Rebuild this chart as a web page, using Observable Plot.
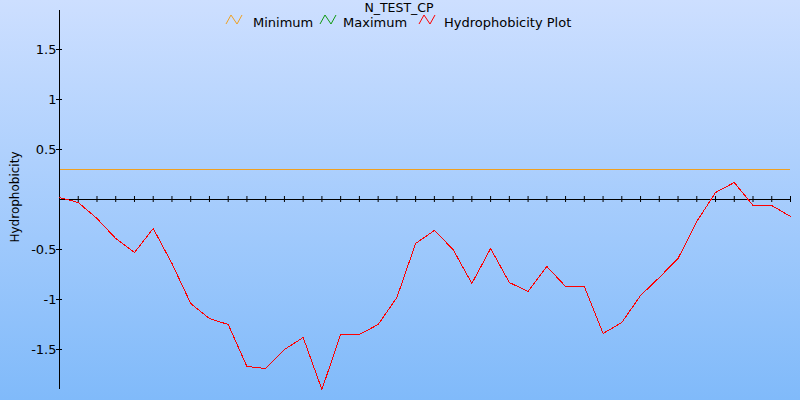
<!DOCTYPE html>
<html><head><meta charset="utf-8">
<script src="https://cdn.jsdelivr.net/npm/d3@7"></script>
<script src="https://cdn.jsdelivr.net/npm/@observablehq/plot@0.6"></script>
<style>
html,body{margin:0;padding:0;background:#fff;}
#wrap{position:relative;width:800px;height:400px;background:linear-gradient(#cddfff,#80bafa);overflow:hidden;font-family:"DejaVu Sans",sans-serif;}
#wrap svg{position:absolute;left:0;top:0;}
</style></head><body><div id="wrap"></div>
<script>
// Residue window positions (x) and hydrophobicity values (y)
const positions = [1,2,3,4,5,6,7,8,9,10,11,12,13,14,15,16,17,18,19,20,21,22,23,24,25,26,27,28,29,30,31,32,33,34,35,36,37,38,39,40];
const hydrophobicity = [0.02,-0.03,-0.19,-0.39,-0.53,-0.29,-0.64,-1.04,-1.19,-1.25,-1.67,-1.69,-1.50,-1.38,-1.90,-1.35,-1.35,-1.25,-0.98,-0.44,-0.31,-0.50,-0.84,-0.49,-0.83,-0.92,-0.67,-0.87,-0.87,-1.34,-1.23,-0.96,-0.78,-0.59,-0.22,0.07,0.17,-0.06,-0.06,-0.17];
const minimumLevel = [0.3];
const yTickValues = [-1.5,-1,-0.5,0.5,1,1.5];
const chartTitle = "N_TEST_CP";
const yLabel = "Hydrophobicity";
const seriesNames = ["Minimum","Maximum","Hydrophobicity Plot"];
const seriesColors = ["#f0a020","#109a10","#ff0000"];

const points = positions.map((p,i)=>({pos:p, value:hydrophobicity[i]}));

const chart = Plot.plot({
  width:800, height:400,
  marginLeft:59, marginRight:10, marginTop:10, marginBottom:11,
  x:{domain:[1,40], axis:null},
  y:{domain:[-1.9,1.89]},
  style:{background:"transparent", fontFamily:"DejaVu Sans", fontSize:"13px", color:"black"},
  marks:[
    Plot.ruleY(minimumLevel,{stroke:seriesColors[0]}),
    Plot.ruleY([0],{stroke:"black"}),
    Plot.ruleX(points,{x:"pos", y1:0, y2:0, insetTop:-3, insetBottom:-3, stroke:"black"}),
    Plot.ruleX([1],{stroke:"black"}),
    Plot.ruleY(yTickValues,{x1:1, x2:1, insetLeft:-3, insetRight:-3, stroke:"black"}),
    Plot.axisY({ticks:yTickValues, tickSize:0, tickPadding:3, tickFormat:d=>String(d), label:null, fill:"black"}),
    Plot.line(points,{x:"pos", y:"value", stroke:seriesColors[2], strokeWidth:1, shapeRendering:"crispEdges"})
  ]
});
const wrap = document.getElementById("wrap");
wrap.appendChild(chart);

// Title, legend and axis label overlay
const ov = d3.select(wrap).append("svg").attr("width",800).attr("height",400)
  .style("font-family","'DejaVu Sans',sans-serif").style("pointer-events","none");
ov.append("text").attr("x",399).attr("y",12).attr("text-anchor","middle")
  .attr("font-size",12.5).attr("fill","black").text(chartTitle);
const legendIcon = [226,320,419];
const legendText = [253,343,444];
seriesNames.forEach((name,i)=>{
  const x0 = legendIcon[i];
  ov.append("polyline")
    .attr("points",[[x0,24],[x0+5,15],[x0+11,24],[x0+16,15]].map(p=>p.join(",")).join(" "))
    .attr("fill","none").attr("stroke",seriesColors[i]).attr("stroke-width",1);
  ov.append("text").attr("x",legendText[i]).attr("y",26.5).attr("font-size",13)
    .attr("fill","black").text(name);
});
ov.append("text").attr("transform","translate(18.8,197) rotate(-90)")
  .attr("text-anchor","middle").attr("font-size",12).attr("fill","black").text(yLabel);
</script></body></html>
